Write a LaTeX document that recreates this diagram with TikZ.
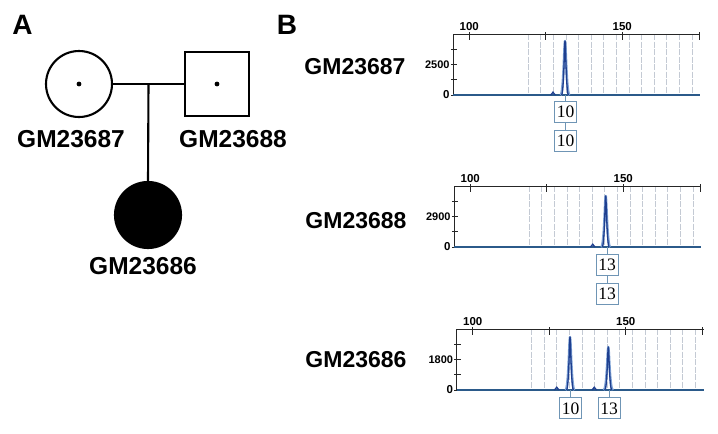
\documentclass[tikz,border=0pt]{standalone}
\usepackage{fontspec}
\usetikzlibrary{calc}
\setmainfont{Liberation Sans}
\newfontfamily\serifnum{Liberation Serif}
\definecolor{tracec}{HTML}{1F3F8F}
\definecolor{halo}{HTML}{7FA3D6}
\definecolor{basec}{HTML}{2B5A8A}
\definecolor{boxc}{HTML}{6F95B5}
\definecolor{gridc}{HTML}{C4CAD4}
\begin{document}
\begin{tikzpicture}[x=1pt,y=-1pt,
  ped/.style={draw=black, line width=2.1pt},
  pedlabel/.style={font=\fontsize{24.5}{24.5}\bfseries\selectfont, inner sep=0pt},
  panel/.style={font=\fontsize{28}{28}\bfseries\selectfont, inner sep=0pt},
  rowlabel/.style={font=\fontsize{23}{23}\bfseries\selectfont, inner sep=0pt},
  allele/.style={draw=boxc, line width=0.8pt, font=\serifnum\fontsize{17.5}{17.5}\selectfont, minimum width=22pt, minimum height=21pt, inner sep=0pt, fill=white},
  boxline/.style={draw=boxc, line width=0.8pt},
  axisnum/.style={font=\fontsize{11.5}{11.5}\bfseries\selectfont, inner sep=1pt},
  ynum/.style={font=\fontsize{11}{11}\bfseries\selectfont, inner sep=1pt},
  gridline/.style={draw=gridc, line width=1pt, dash pattern=on 6pt off 1.5pt},
  axisline/.style={draw=black!85, line width=0.9pt},
  basetrace/.style={draw=basec, line width=1.2pt},
  peakhalo/.style={draw=halo, line width=2.4pt, line join=round},
  peaktrace/.style={draw=tracec, line width=1.3pt, line join=round},
  pics/chartframe/.style={code={
    \foreach \i in {0,...,13} \draw[gridline] (75+\i*12.6,0) -- (75+\i*12.6,61);
    \draw[axisline] (0,61) -- (0,0) -- (247,0);
    \foreach \t in {16,92.5,169,246} \draw[axisline] (\t,-2) -- (\t,6);
    \foreach \t in {15.5,30.5,45.5} \draw[axisline] (-2.5,\t) -- (4,\t);
    \draw[axisline] (-2.5,61) -- (0,61);
    \node[axisnum, anchor=south] at (16,-2.5) {100};
    \node[axisnum, anchor=south] at (169,-2.5) {150};
    \node[ynum, anchor=east] at (-2.5,30.5) {#1};
    \node[axisnum, anchor=east] at (-2.5,61) {0};
    \draw[basetrace] (0,61) -- (247,61);
  }},
  pics/peak/.style={code={
    \draw[peakhalo] (-4.5,0) .. controls (-1.5,0) and (-0.8,-#1) .. (0,-#1) .. controls (0.8,-#1) and (1.5,0) .. (4.5,0);
    \draw[peaktrace] (-3.5,0) .. controls (-1.2,0) and (-0.6,-#1) .. (0,-#1) .. controls (0.6,-#1) and (1.2,0) .. (3.5,0);
  }},
  pics/bump/.style={code={
    \draw[peaktrace] (-2.5,0) .. controls (-1,0) and (-0.6,-#1) .. (0,-#1) .. controls (0.6,-#1) and (1,0) .. (2.5,0);
  }}
]
\useasboundingbox (0,0) rectangle (718,434);

% Panel labels
\node[panel] (pA) at (22.5,25) {A};
\node[panel] (pB) at (287,25) {B};

% Pedigree
\node[circle, ped, minimum size=66pt, inner sep=0pt] (mom) at (79,84) {};
\node[rectangle, ped, minimum size=64pt, inner sep=0pt] (dad) at (217,84) {};
\fill (mom.center) circle (2.4);
\fill (dad.center) circle (2.4);
\node[circle, ped, fill=black, minimum size=66pt, inner sep=0pt] (kid) at (148,215) {};
\coordinate (mid) at ($(mom.east)!0.5!(dad.west)$);
\draw[ped] (mom.east) -- (dad.west);
\draw[ped] (mid) -- (kid.north);
\node[pedlabel] (lmom) at (71,139) {GM23687};
\node[pedlabel] (ldad) at (233,139) {GM23688};
\node[pedlabel] (lkid) at (143,266) {GM23686};

% Row labels
\node[rowlabel] (r1) at (355,67) {GM23687};
\node[rowlabel] (r2) at (356,221) {GM23688};
\node[rowlabel] (r3) at (356,360) {GM23686};

% Charts
\pic at (453.3,34) {chartframe=2500};
\pic at (454.3,186) {chartframe=2900};
\pic at (456.7,329) {chartframe=1800};

% Peaks row 1
\pic at (553,95) {bump=3};
\pic at (565,95) {peak=54};
% Peaks row 2
\pic at (592.7,247) {bump=3};
\pic at (605.7,247) {peak=51};
% Peaks row 3
\pic at (556.7,390) {bump=3};
\pic at (594.3,390) {bump=3};
\pic at (570,390) {peak=53};
\pic at (608.3,390) {peak=43};

% Allele boxes
\coordinate (p1) at (565.5,95);
\node[allele] (a1) at (565.5,112) {10};
\node[allele] (a1b) at (565.5,141) {10};
\draw[boxline] (p1) -- (a1.north);
\draw[boxline] (a1.south) -- (a1b.north);

\coordinate (p2) at (607,247);
\node[allele] (a2) at (607,265) {13};
\node[allele] (a2b) at (607,294) {13};
\draw[boxline] (p2) -- (a2.north);
\draw[boxline] (a2.south) -- (a2b.north);

\coordinate (p3) at (570.5,390);
\coordinate (p4) at (609.2,390);
\node[allele] (a3) at (570.5,408.3) {10};
\node[allele] (a4) at (609.2,408.3) {13};
\draw[boxline] (p3) -- (a3.north);
\draw[boxline] (p4) -- (a4.north);
\end{tikzpicture}
\end{document}
